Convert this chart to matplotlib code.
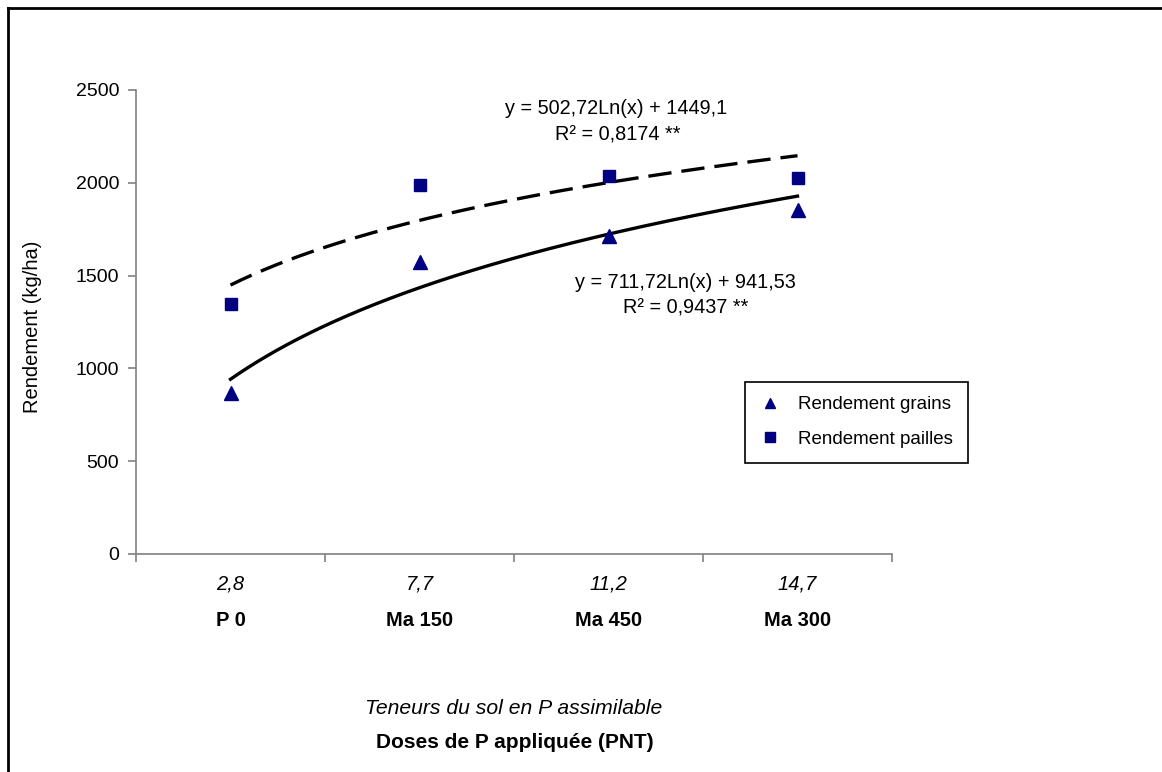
import numpy as np
import matplotlib
matplotlib.use("Agg")
import matplotlib.pyplot as plt
from matplotlib.lines import Line2D
from matplotlib.patches import Rectangle

plt.rcParams['font.family'] = ['Liberation Sans', 'DejaVu Sans']

# data
teneurs = ["2,8", "7,7", "11,2", "14,7"]
doses = ["P 0", "Ma 150", "Ma 450", "Ma 300"]
x_pos = [1, 2, 3, 4]
grains = [865, 1575, 1712, 1852]
pailles = [1345, 1988, 2038, 2028]

# log trendlines as shown on the chart: y = a*ln(x) + b
fit_grains = (711.72, 941.53)
fit_pailles = (502.72, 1449.1)
eq_grains = ["y = 711,72Ln(x) + 941,53", "R² = 0,9437 **"]
eq_pailles = ["y = 502,72Ln(x) + 1449,1", "R² = 0,8174 **"]

W, H = 1162, 772
fig = plt.figure(figsize=(W / 100, H / 100), dpi=100)

def fx(px):
    return px / W

def fy(py):
    return 1 - py / H

# outer chart frame (only top/left visible)
fig.add_artist(Line2D([fx(8), fx(8)], [fy(8), 0], color="black", lw=2))
fig.add_artist(Line2D([fx(8), 1], [fy(8), fy(8)], color="black", lw=2))

ax = fig.add_axes([fx(136), fy(554), fx(892) - fx(136), fy(90) - fy(554)])
navy = "#000080"

xs = np.linspace(1, 4, 200)
ax.plot(xs, fit_grains[0] * np.log(xs) + fit_grains[1], color="black", lw=2.4)
ax.plot(xs, fit_pailles[0] * np.log(xs) + fit_pailles[1], color="black", lw=2.4,
        linestyle=(0, (7, 3)))
ax.plot(x_pos, grains, linestyle="none", marker="^", ms=10, color=navy,
        label="Rendement grains")
ax.plot(x_pos, pailles, linestyle="none", marker="s", ms=8, color=navy,
        label="Rendement pailles")

ax.set_xlim(0.5, 4.5)
ax.set_ylim(0, 2500)
ax.set_yticks([0, 500, 1000, 1500, 2000, 2500])
ax.set_xticks([0.5, 1.5, 2.5, 3.5, 4.5])
ax.set_xticklabels([])
for s in ["top", "right"]:
    ax.spines[s].set_visible(False)
for s in ["left", "bottom"]:
    ax.spines[s].set_color("#808080")
    ax.spines[s].set_linewidth(1.2)
ax.tick_params(axis="both", direction="out", length=6, color="#808080", width=1.2,
               labelsize=14)
ax.tick_params(axis="y", pad=6)

# category labels
for xp, t, d in zip(x_pos, teneurs, doses):
    ax.annotate(t, (xp, 0), xycoords=("data", "axes fraction"), xytext=(0, -30),
                textcoords="offset pixels", ha="center", va="center",
                fontsize=14.5, style="italic")
    ax.annotate(d, (xp, 0), xycoords=("data", "axes fraction"), xytext=(0, -67),
                textcoords="offset pixels", ha="center", va="center",
                fontsize=14.5, weight="bold")

fig.text(fx(33), fy(327), "Rendement (kg/ha)", rotation=90, ha="center", va="center",
         fontsize=14.5)
fig.text(fx(514), fy(709), "Teneurs du sol en P assimilable", ha="center", va="center",
         fontsize=15.2, style="italic")
fig.text(fx(515), fy(742), "Doses de P appliquée (PNT)", ha="center", va="center",
         fontsize=15, weight="bold")

fig.text(fx(616), fy(108), eq_pailles[0], ha="center", va="center", fontsize=14.3)
fig.text(fx(618), fy(135), eq_pailles[1], ha="center", va="center", fontsize=14.3)
fig.text(fx(685), fy(282), eq_grains[0], ha="center", va="center", fontsize=14.3)
fig.text(fx(686), fy(308), eq_grains[1], ha="center", va="center", fontsize=14.3)

# legend: frame drawn separately to match the tall Excel box
fig.add_artist(Rectangle((fx(745), fy(463)), fx(968) - fx(745), fy(382) - fy(463),
                         transform=fig.transFigure, fill=False, edgecolor="black",
                         lw=1.2))
handles = [
    Line2D([], [], linestyle="none", marker="^", ms=7, color=navy),
    Line2D([], [], linestyle="none", marker="s", ms=7, color=navy),
]
fig.legend(handles, ["Rendement grains", "Rendement pailles"],
           loc="upper left", bbox_to_anchor=(fx(761), fy(396)),
           frameon=False, fontsize=13.5,
           handlelength=1.0, handletextpad=1.0, labelspacing=0.94,
           borderpad=0, borderaxespad=0)

fig.savefig("out.png", dpi=100)
